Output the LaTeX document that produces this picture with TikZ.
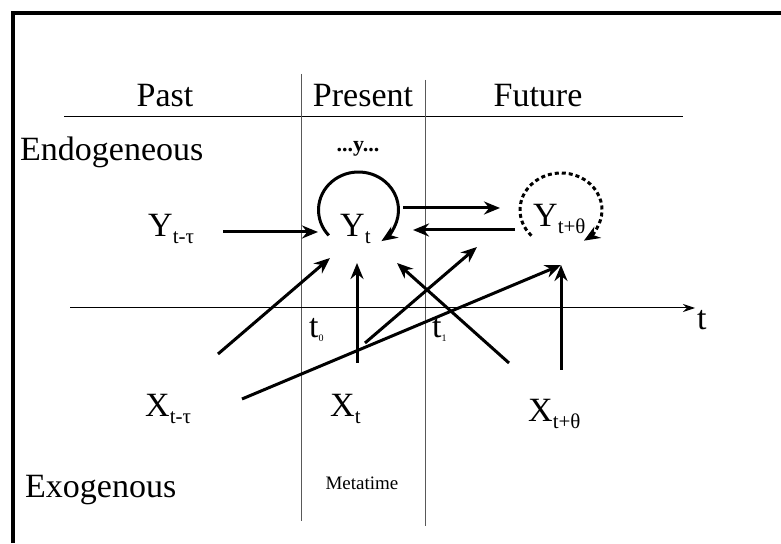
\documentclass[tikz,border=0pt]{standalone}
\usepackage{fontspec}
\setmainfont{Liberation Serif}
\usetikzlibrary{arrows.meta}
\newcommand{\lowsub}[1]{\raisebox{-7pt}{\fontsize{21}{21}\selectfont #1}}
\newcommand{\tinysub}[1]{\raisebox{-4pt}{\fontsize{10}{10}\selectfont #1}}

\begin{document}
\begin{tikzpicture}[x=1pt, y=1pt,
    bigtext/.style={inner sep=0pt, font=\fontsize{34}{34}\selectfont},
    smalltext/.style={inner sep=0pt, font=\fontsize{19}{19}\selectfont},
    arr/.style={-{Stealth[length=16pt,width=13pt]}, line width=3pt},
    dotloop/.style={arr, dash pattern=on 4pt off 3pt},
    divider/.style={draw=black!65, line width=1pt},
    axisline/.style={line width=1pt}
  ]
    \useasboundingbox[fill=white] (0,0) rectangle (781,543);
    % Frame
    \draw[line width=4pt] (13,0) -- (13,529.5) -- (781,529.5);
    % Headers and dividers
    \draw[axisline] (64,426) -- (683,426);
    \draw[divider] (301,469) -- (301,22);
    \draw[divider] (425,463) -- (425,17);
    \node[bigtext, anchor=base] (past) at (165,436) {Past};
    \node[bigtext, anchor=base] (present) at (363,436) {Present};
    \node[bigtext, anchor=base] (future) at (538,436) {Future};
    \node[bigtext, anchor=base west] (endo) at (20,382) {Endogeneous};
    \node[bigtext, anchor=base west] (exo) at (25,45) {Exogenous};
    \node[smalltext, anchor=base] (meta) at (362,53) {Metatime};
    \node[inner sep=0pt, anchor=base, font=\fontsize{22}{22}\selectfont\bfseries] (dots) at (358,391) {...y...};
    % Time axis
    \draw[axisline, -{Stealth[length=12pt,width=8pt]}] (70,235) -- (695,235);
    \node[bigtext, anchor=base west] (tlab) at (697,213) {t};
    \node[bigtext, anchor=base west] (t0) at (309,205) {t\tinysub{0}};
    \node[bigtext, anchor=base west] (t1) at (432,205) {t\tinysub{1}};
    % Variables
    \node[bigtext, anchor=base west] (ypast) at (148,306) {Y\lowsub{t-τ}};
    \node[bigtext, anchor=base west] (ynow) at (340,306) {Y\lowsub{t}};
    \node[bigtext, anchor=base west] (yfut) at (533,316) {Y\lowsub{t+θ}};
    \node[bigtext, anchor=base west] (xpast) at (145,126) {X\lowsub{t-τ}};
    \node[bigtext, anchor=base west] (xnow) at (330,126) {X\lowsub{t}};
    \node[bigtext, anchor=base west] (xfut) at (528,121) {X\lowsub{t+θ}};
    % Arrow ends
    \coordinate (ypast-out) at (223,311);
    \coordinate (ynow-in) at (318,311);
    \coordinate (ynow-out) at (403,335);
    \coordinate (yfut-in) at (500,335);
    \coordinate (yfut-out) at (515,313);
    \coordinate (ynow-back) at (413,313);
    \coordinate (ynow-sw) at (330,285);
    \coordinate (ynow-s) at (357,280);
    \coordinate (ynow-se) at (397,280);
    \coordinate (mid-ne) at (477,296);
    \coordinate (yfut-s) at (561,278);
    \coordinate (xpast-ne) at (218,189);
    \coordinate (xpast-e) at (242,144);
    \coordinate (xnow-n) at (357,180);
    \coordinate (xnow-ne) at (365,200);
    \coordinate (xright) at (509,180);
    \coordinate (xfut-n) at (561,173);
    \coordinate (ynow-c) at (358.5,333);
    \coordinate (yfut-c) at (561,333);
    % Arrows
    \draw[arr] (ypast-out) -- (ynow-in);
    \draw[arr] (ynow-out) -- (yfut-in);
    \draw[arr] (yfut-out) -- (ynow-back);
    \draw[arr] (xpast-ne) -- (ynow-sw);
    \draw[arr] (xnow-n) -- (ynow-s);
    \draw[arr] (xright) -- (ynow-se);
    \draw[arr] (xnow-ne) -- (mid-ne);
    \draw[arr] (xpast-e) -- (yfut-s);
    \draw[arr] (xfut-n) -- (yfut-s);
    % Self loops
    \draw[arr] ([shift={(222:40 and 38)}]ynow-c) arc[start angle=222, end angle=-55, x radius=40, y radius=38];
    \draw[dotloop] ([shift={(224:41 and 37)}]yfut-c) arc[start angle=224, end angle=-56, x radius=41, y radius=37];
  \end{tikzpicture}
\end{document}
